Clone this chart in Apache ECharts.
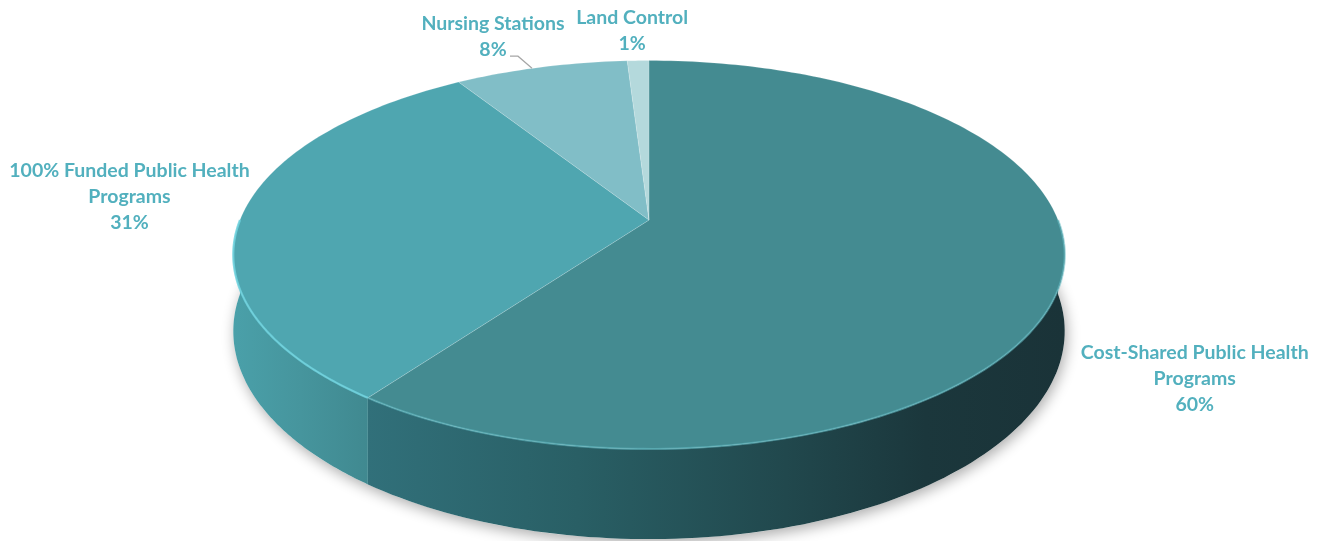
<!DOCTYPE html>
<html>
<head>
<meta charset="utf-8">
<script src="https://cdn.jsdelivr.net/npm/echarts@6/dist/echarts.min.js"></script>
<style>
html,body{margin:0;padding:0;background:#fff;}
#chart{width:1323px;height:541px;}
</style>
</head>
<body>
<div id="chart"></div>
<script>
// ---- data ----
const categories = ['Cost-Shared Public Health Programs', '100% Funded Public Health Programs', 'Nursing Stations', 'Land Control'];
const labelTexts = ['Cost-Shared Public Health\nPrograms', '100% Funded Public Health\nPrograms', 'Nursing Stations', 'Land Control'];
const values = [60, 31, 8, 1];

// ---- styles / geometry ----
const topColors = ['#448b91', '#4fa6b0', '#81bec7', '#b4d9dc'];
const sideStops = [
  [[0, '#31707a'], [0.3, '#295f65'], [0.6, '#21484d'], [0.8, '#1b373c'], [1, '#1a3338']],
  [[0, '#4aa0a9'], [0.5, '#46959d'], [1, '#408990']],
  [[0, '#6fa9b1'], [1, '#6fa9b1']],
  [[0, '#9cc4c7'], [1, '#9cc4c7']]
];
const labelOffsets = [[134, 97], [-113, -17], [-48, -30], [-6, -30]];
const labelColor = '#52b0be';
// perspective disc: apex (cx, cy), horizontal scale A, vertical scale B, tilt c, wall height D
const geo = { cx: 649, cy: 220, A: 409, B: 188, c: 0.179, D: 74 };

const total = values.reduce((a, b) => a + b, 0);

function proj(a, drop) {
  const u = Math.cos(a), v = Math.sin(a);
  const w = 1 - geo.c * v;
  return [geo.cx + geo.A * u / w, geo.cy + geo.B * v / w + (drop ? geo.D / w : 0)];
}

function arcPts(s, e, drop, n) {
  const pts = [];
  for (let k = 0; k <= n; k++) pts.push(proj(s + (e - s) * k / n, drop));
  return pts;
}

function renderItem(params, api) {
  const i = params.dataIndex;
  const v = api.value(1);
  let before = 0;
  for (let k = 0; k < i; k++) before += values[k];
  const a0 = -Math.PI / 2 + before / total * Math.PI * 2;
  const a1 = a0 + v / total * Math.PI * 2;
  const children = [];

  if (i === 0) {
    children.push({
      type: 'polygon',
      shape: { points: arcPts(0, Math.PI * 2, true, 240) },
      style: { fill: '#fff', shadowBlur: 14, shadowColor: 'rgba(0,0,0,0.33)', shadowOffsetY: 4, shadowOffsetX: 2 },
      silent: true
    });
  }

  // side wall: part of slice on the front half
  for (let sh = -2; sh <= 2; sh++) {
    const lo = Math.max(a0, sh * Math.PI * 2);
    const hi = Math.min(a1, sh * Math.PI * 2 + Math.PI);
    if (hi <= lo) continue;
    const top = arcPts(lo, hi, false, 100);
    const bot = arcPts(lo, hi, true, 100).reverse();
    const xs = top.map(p => p[0]);
    const x0 = Math.min.apply(null, xs), x1 = Math.max.apply(null, xs);
    children.push({
      type: 'polygon',
      shape: { points: top.concat(bot) },
      style: {
        fill: new echarts.graphic.LinearGradient(x0, 0, x1, 0,
          sideStops[i].map(s => ({ offset: s[0], color: s[1] })), true),
        stroke: null
      }
    });
  }

  // top face
  const topPts = [[geo.cx, geo.cy]].concat(arcPts(a0, a1, false, Math.max(8, Math.ceil(v * 3))));
  children.push({
    type: 'polygon',
    shape: { points: topPts },
    style: { fill: topColors[i], stroke: 'rgba(255,255,255,0.25)', lineWidth: 0.6 }
  });
  // rim highlight on the front edge
  const rs = Math.max(a0, 0), re = Math.min(a1, Math.PI);
  if (re > rs) {
    children.push({
      type: 'polyline',
      shape: { points: arcPts(rs, re, false, 100) },
      style: { stroke: i === 1 ? 'rgba(110,210,222,0.85)' : 'rgba(95,185,195,0.55)', lineWidth: 2.2, fill: null }
    });
  }

  // label
  const mid = (a0 + a1) / 2;
  const rim = proj(mid, false);
  const px = rim[0] + labelOffsets[i][0];
  const py = rim[1] + labelOffsets[i][1];
  children.push({
    type: 'text',
    x: px, y: py,
    style: {
      text: labelTexts[i] + '\n' + Math.round(v / total * 100) + '%',
      fill: labelColor,
      fontFamily: 'Lato, "Open Sans", sans-serif',
      fontWeight: 'bold',
      fontSize: 19.5,
      lineHeight: 26,
      align: 'center',
      verticalAlign: 'middle'
    }
  });
  if (i === 2) {
    children.push({
      type: 'polyline',
      shape: { points: [[px + 17, py + 19], [px + 25, py + 19], [px + 39, py + 31]] },
      style: { stroke: '#a6a6a6', lineWidth: 1.2, fill: null }
    });
  }
  return { type: 'group', children: children };
}

const chart = echarts.init(document.getElementById('chart'), null, { renderer: 'canvas' });
chart.setOption({
  animation: false,
  backgroundColor: '#ffffff',
  series: [{
    type: 'custom',
    coordinateSystem: 'none',
    renderItem: renderItem,
    data: categories.map((c, k) => ({ name: c, value: [k, values[k]] }))
  }]
});
</script>
</body>
</html>
